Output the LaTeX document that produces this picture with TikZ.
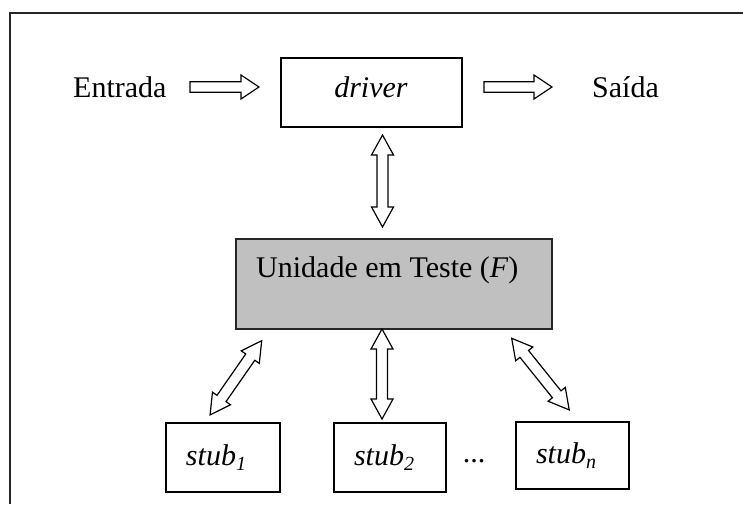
\documentclass[tikz,border=0pt]{standalone}
\usepackage{fontspec}
\setmainfont{Liberation Serif}
\usetikzlibrary{calc}
\tikzset{
  boxnode/.style={draw=black, line width=1.4pt, inner sep=0pt, fill=white},
  unitnode/.style={draw=black!85, line width=1.4pt, inner sep=0pt, fill=unitgray},
  txt/.style={inner sep=0pt, font=\fontsize{30pt}{36pt}\selectfont},
  blockarrow/.style={draw=black, line width=1.2pt, fill=white, line join=miter},
  framepath/.style={draw=black!85, line width=1.8pt}
}
\definecolor{unitgray}{HTML}{C0C0C0}
% double-headed block arrow between two named coordinates
\newcommand\dblarr[2]{%
  \path[blockarrow] let \p1=($(#2)-(#1)$), \n1={veclen(\x1,\y1)}, \n2={atan2(\y1,\x1)} in
    ([shift={(#1)},rotate=\n2]0,0)
    -- ([shift={(#1)},rotate=\n2]20,11)
    -- ([shift={(#1)},rotate=\n2]20,5.5)
    -- ([shift={(#1)},rotate=\n2]\n1-20,5.5)
    -- ([shift={(#1)},rotate=\n2]\n1-20,11)
    -- ([shift={(#1)},rotate=\n2]\n1,0)
    -- ([shift={(#1)},rotate=\n2]\n1-20,-11)
    -- ([shift={(#1)},rotate=\n2]\n1-20,-5.5)
    -- ([shift={(#1)},rotate=\n2]20,-5.5)
    -- ([shift={(#1)},rotate=\n2]20,-11)
    -- cycle;}
% single block arrow between two named coordinates
\newcommand\sglarr[2]{%
  \path[blockarrow] let \p1=($(#2)-(#1)$), \n1={veclen(\x1,\y1)}, \n2={atan2(\y1,\x1)} in
    ([shift={(#1)},rotate=\n2]0,5.3)
    -- ([shift={(#1)},rotate=\n2]\n1-18,5.3)
    -- ([shift={(#1)},rotate=\n2]\n1-18,12)
    -- ([shift={(#1)},rotate=\n2]\n1,0)
    -- ([shift={(#1)},rotate=\n2]\n1-18,-12)
    -- ([shift={(#1)},rotate=\n2]\n1-18,-5.3)
    -- ([shift={(#1)},rotate=\n2]0,-5.3)
    -- cycle;}
\begin{document}
\begin{tikzpicture}[x=1pt,y=-1pt]
\useasboundingbox (0,0) rectangle (743,504);
\fill[white] (0,0) rectangle (743,504);
% outer frame (continues beyond the picture on the right and bottom)
\draw[framepath] (10,504) -- (10,13) -- (743,13);

% boxes
\node[boxnode, minimum width=181pt, minimum height=69pt] (driver) at (371.5,92.5) {};
\node[unitnode, minimum width=316pt, minimum height=90pt] (unit) at (394,284) {};
\node[boxnode, minimum width=114pt, minimum height=69pt] (stub1) at (223,457.5) {};
\node[boxnode, minimum width=112pt, minimum height=69pt] (stub2) at (390,457.5) {};
\node[boxnode, minimum width=113pt, minimum height=67pt] (stubn) at (572.5,455.5) {};

% texts
\node[txt, anchor=base west] (entrada) at (73,97) {Entrada};
\node[txt, anchor=base] (drivertext) at (371,97) {\textit{driver}};
\node[txt, anchor=base west] (saida) at (592,97) {Saída};
\node[txt, anchor=base west] (unittext) at (256,277) {Unidade em Teste (\textit{F})};
\node[txt, anchor=base] (stub1text) at (216,465) {\textit{stub}\raisebox{-5pt}{\fontsize{20pt}{24pt}\selectfont\textit{1}}};
\node[txt, anchor=base] (stub2text) at (384,465) {\textit{stub}\raisebox{-5pt}{\fontsize{20pt}{24pt}\selectfont\textit{2}}};
\node[txt, anchor=base] (stubntext) at (566,463) {\textit{stub}\raisebox{-5pt}{\fontsize{20pt}{24pt}\selectfont\textit{n}}};
\node[txt, anchor=base] (dots) at (474,462) {...};

% arrow end points
\coordinate (a1s) at (190,87);
\coordinate (a1e) at (259,87);
\coordinate (a2s) at (484,87);
\coordinate (a2e) at (552,87);
\coordinate (vts) at (382.5,135);
\coordinate (vte) at (382.5,227);
\coordinate (vms) at (382,329);
\coordinate (vme) at (382,419);
\coordinate (vls) at (261.7,340.7);
\coordinate (vle) at (210,415);
\coordinate (vrs) at (511.7,338.3);
\coordinate (vre) at (569.3,410);

\sglarr{a1s}{a1e}
\sglarr{a2s}{a2e}
\dblarr{vts}{vte}
\dblarr{vms}{vme}
\dblarr{vls}{vle}
\dblarr{vrs}{vre}
\end{tikzpicture}
\end{document}
